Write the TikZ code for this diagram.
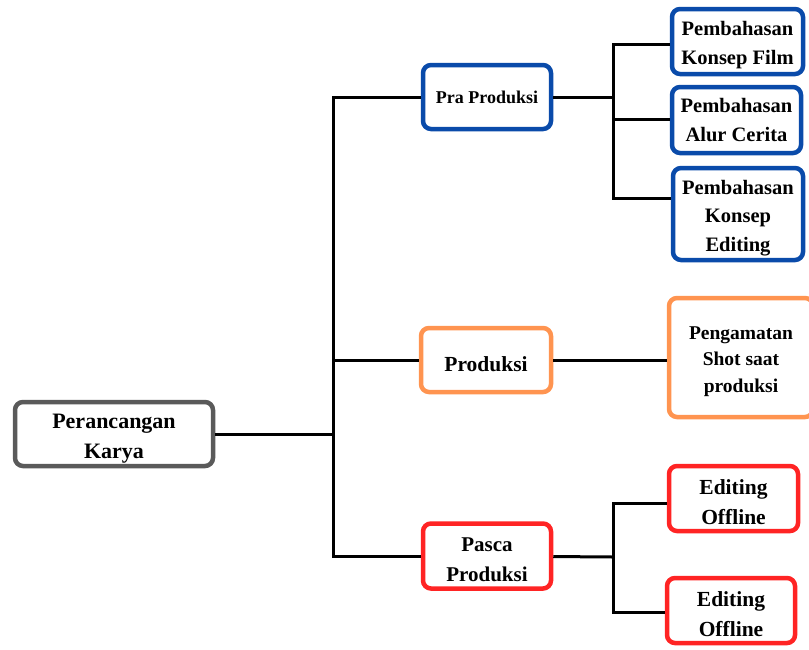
\documentclass[tikz,border=0pt]{standalone}
\usepackage{fontspec}
\setmainfont{Liberation Serif}
\usepackage{tikz}
\usetikzlibrary{calc}
\usetikzlibrary{positioning}
\definecolor{rootgray}{HTML}{5A5A5A}
\definecolor{prablue}{HTML}{0A4BAA}
\definecolor{prodorange}{HTML}{FF9450}
\definecolor{pascared}{HTML}{FF2424}
\newcommand{\topgap}{\rule{0pt}{1.05em}}
\tikzstyle{box} = [rectangle, rounded corners=8pt, line width=4.5pt, fill=white, align=center, inner sep=0pt, font=\fontsize{20.5}{29}\selectfont\bfseries]
\tikzstyle{link} = [-, line width=3pt, draw=black]

\begin{document}
\begin{tikzpicture}[x=1pt, y=-1pt]
\useasboundingbox (0,0) rectangle (809,649);
% tingkat pertama
\node [box, draw=rootgray, minimum width=198pt, minimum height=64pt, font=\fontsize{22}{30}\selectfont\bfseries] (PK) at (114,434) {\topgap Perancangan\\Karya};
\node [box, draw=prablue, minimum width=128pt, minimum height=64pt, font=\fontsize{18}{26}\selectfont\bfseries] (PRA) at (487,97) {Pra Produksi};
\node [box, draw=prodorange, minimum width=130pt, minimum height=64pt, font=\fontsize{21.5}{30}\selectfont\bfseries] (PROD) at (486,360) {\topgap Produksi};
\node [box, draw=pascared, minimum width=128pt, minimum height=65pt, font=\fontsize{21}{30}\selectfont\bfseries] (PAS) at (487,556) {\topgap Pasca\\Produksi};
% tingkat kedua
\node [box, draw=prablue, minimum width=131pt, minimum height=65pt] (KF) at (737.5,41.5) {\topgap Pembahasan\\Konsep Film};
\node [box, draw=prablue, minimum width=129pt, minimum height=66pt] (AC) at (736.5,120) {Pembahasan\\Alur Cerita};
\node [box, draw=prablue, minimum width=130pt, minimum height=92pt, font=\fontsize{20.5}{28.5}\selectfont\bfseries] (KE) at (738,214) {\topgap Pembahasan\\Konsep\\Editing};
\node [box, draw=prodorange, minimum width=144pt, minimum height=119pt, font=\fontsize{19.5}{26.5}\selectfont\bfseries] (PS) at (741,357.5) {\topgap Pengamatan\\Shot saat\\produksi};
\node [box, draw=pascared, minimum width=129pt, minimum height=65pt, font=\fontsize{21.5}{30}\selectfont\bfseries] (EO1) at (733.5,498.5) {\topgap Editing\\Offline};
\node [box, draw=pascared, minimum width=128pt, minimum height=65pt, font=\fontsize{21.5}{30}\selectfont\bfseries] (EO2) at (731,610.5) {\topgap Editing\\Offline};
% garis penghubung
\coordinate (J1) at (333,434);
\coordinate (J2) at (613,97);
\coordinate (J3) at (613,557);
\draw [link] (PK) -- (J1);
\draw [link] (J1) |- (PRA);
\draw [link] (J1) |- (PROD);
\draw [link] (J1) |- (PAS);
\draw [link] (PRA) -- (J2);
\draw [link] (J2) |- ([yshift=-2.5pt]KF.west);
\draw [link] (J2) |- ([yshift=1pt]AC.west);
\draw [link] (J2) |- ([yshift=16pt]KE.west);
\draw [link] (PROD.east) -- (PROD.east -| PS.west);
\draw [link] (PAS) -- (J3);
\draw [link] (J3) |- ([yshift=-4.5pt]EO1.west);
\draw [link] (J3) |- ([yshift=-1.5pt]EO2.west);
\end{tikzpicture}
\end{document}
